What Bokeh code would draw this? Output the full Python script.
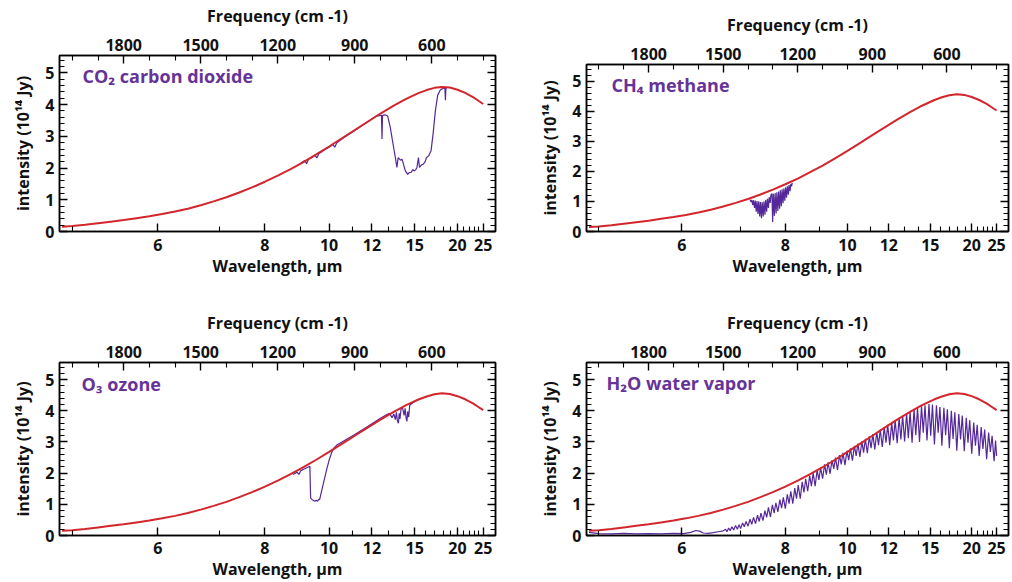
from bokeh.plotting import figure
from bokeh.models import (Range1d, LinearAxis, FixedTicker, SingleIntervalTicker,
                          CustomJSTickFormatter, Label)
from bokeh.layouts import row, column
from bokeh.embed import file_html
from bokeh.resources import INLINE

# ---------------- data (x in wavenumber, cm-1; y in 10^14 Jy) ----------------
bb_wavenumber = [2040, 2000, 1950, 1900, 1850, 1800, 1750, 1700, 1650, 1600, 1550, 1500,
                 1450, 1400, 1350, 1300, 1250, 1200, 1150, 1100, 1050, 1000, 950, 900,
                 850, 800, 750, 700, 650, 620, 590, 560, 530, 500, 470, 440, 420, 400]
bb_intensity = [0.15, 0.17, 0.21, 0.26, 0.31, 0.36, 0.42, 0.48, 0.55, 0.63, 0.72, 0.83,
                0.95, 1.08, 1.23, 1.39, 1.57, 1.76, 1.97, 2.19, 2.43, 2.68, 2.94, 3.20,
                3.46, 3.72, 3.96, 4.18, 4.37, 4.46, 4.53, 4.56, 4.54, 4.47, 4.37, 4.24, 4.13, 4.02]

co2_wavenumber = [1110, 1095, 1088, 1080, 1065, 1055, 1048, 1040, 1020, 1000, 985, 978, 970,
                  950, 930, 910, 890, 870, 850, 830, 815, 800, 796, 794, 792, 782, 772, 762,
                  751, 742, 736, 731, 722, 716, 703, 694, 688, 681, 674, 668, 662, 658, 652,
                  648, 640, 634, 626, 621, 612, 603, 595, 586, 577, 567, 556, 549, 547, 545, 540]
co2_intensity = [2.16, 2.24, 2.14, 2.28, 2.34, 2.40, 2.32, 2.45, 2.56, 2.66, 2.74, 2.66, 2.80,
                 2.92, 3.03, 3.13, 3.24, 3.35, 3.45, 3.56, 3.64, 3.66, 3.66, 2.92, 3.66, 3.68,
                 3.64, 3.29, 2.76, 2.33, 2.02, 2.33, 2.25, 2.28, 1.91, 1.80, 1.86, 1.86, 1.95,
                 1.91, 1.96, 2.02, 2.33, 2.02, 2.10, 2.12, 2.20, 2.33, 2.39, 2.55, 3.08, 3.82,
                 4.30, 4.46, 4.52, 4.52, 4.14, 4.52, 4.55]

ch4_wavenumber = [1392, 1388, 1385, 1381, 1378, 1374, 1371, 1367, 1364, 1360, 1357, 1353, 1350,
                  1346, 1343, 1339, 1336, 1332, 1329, 1325, 1322, 1318, 1315, 1311, 1308, 1304,
                  1301, 1298, 1294, 1291, 1287, 1284, 1280, 1277, 1273, 1270, 1266, 1263, 1259,
                  1256, 1252, 1249, 1245, 1242, 1238, 1235, 1231, 1228, 1225, 1222]
ch4_intensity = [1.06, 0.98, 1.05, 0.88, 1.04, 0.78, 1.03, 0.66, 1.01, 0.58, 1.00, 0.50, 0.98,
                 0.44, 0.97, 0.50, 1.00, 0.56, 1.05, 0.66, 1.09, 0.78, 1.14, 0.95, 1.22, 1.26,
                 0.32, 1.25, 0.52, 1.28, 0.60, 1.30, 0.68, 1.33, 0.76, 1.37, 0.84, 1.40, 0.94,
                 1.43, 1.02, 1.47, 1.12, 1.50, 1.22, 1.54, 1.34, 1.58, 1.50, 1.62]

o3_wavenumber = [1140, 1125, 1118, 1110, 1095, 1085, 1075, 1072, 1066, 1060, 1055, 1050, 1045,
                 1040, 1037, 1030, 1020, 1010, 1000, 990, 980, 970, 950, 900, 850, 800, 775,
                 765, 755, 748, 742, 738, 734, 730, 727, 724, 720, 714, 708, 704, 700, 697,
                 694, 690, 686, 680, 670, 660, 650, 640]
o3_intensity = [1.96, 2.03, 1.96, 2.08, 2.14, 2.18, 2.22, 1.20, 1.15, 1.12, 1.10, 1.13, 1.10,
                1.16, 1.15, 1.40, 1.75, 2.10, 2.42, 2.66, 2.82, 2.90, 3.00, 3.24, 3.50, 3.76,
                3.88, 3.92, 3.78, 3.90, 3.72, 3.95, 3.68, 3.60, 3.92, 3.74, 4.05, 4.10, 3.85,
                4.08, 3.76, 3.66, 3.98, 3.80, 4.18, 4.22, 4.28, 4.33, 4.37, 4.40]

h2o_wavenumber = [2040, 2000, 1950, 1900, 1850, 1800, 1750, 1700, 1660, 1630, 1610, 1595, 1580,
                  1560, 1540, 1520, 1500, 1490, 1485, 1478, 1472, 1465, 1458, 1450, 1443, 1436,
                  1430, 1422, 1415, 1408, 1400, 1392, 1385, 1378, 1370, 1362, 1355, 1348, 1340,
                  1332, 1325, 1318, 1310, 1302, 1295, 1288, 1280, 1272, 1265, 1258, 1250, 1242,
                  1235, 1228, 1220, 1212, 1205, 1198, 1190, 1182, 1175, 1168, 1160, 1152, 1145,
                  1138, 1130, 1122, 1115, 1108, 1100, 1092, 1085, 1078, 1070, 1062, 1055, 1048,
                  1040, 1032, 1025, 1018, 1010, 1002, 995, 988, 980, 972, 965, 958, 950, 942,
                  935, 928, 920, 912, 905, 898, 890, 882, 875, 868, 860, 852, 845, 838, 830,
                  822, 815, 808, 800, 792, 785, 778, 770, 762, 755, 748, 740, 732, 725, 718,
                  710, 702, 695, 688, 680, 672, 665, 658, 650, 642, 635, 628, 620, 612, 605,
                  598, 590, 582, 575, 568, 560, 552, 545, 538, 530, 522, 515, 508, 500, 492,
                  485, 478, 470, 462, 455, 448, 440, 432, 425, 418, 410, 404, 400]
h2o_intensity = [0.10, 0.06, 0.05, 0.07, 0.05, 0.06, 0.05, 0.07, 0.06, 0.10, 0.16, 0.14, 0.08,
                 0.07, 0.09, 0.12, 0.15, 0.20, 0.12, 0.24, 0.15, 0.28, 0.18, 0.32, 0.20, 0.35,
                 0.22, 0.40, 0.28, 0.45, 0.30, 0.52, 0.36, 0.58, 0.38, 0.65, 0.45, 0.72, 0.48,
                 0.80, 0.58, 0.90, 0.60, 0.98, 0.72, 1.05, 0.76, 1.15, 0.88, 1.22, 0.86, 1.32,
                 1.02, 1.42, 1.02, 1.52, 1.18, 1.62, 1.18, 1.72, 1.38, 1.82, 1.42, 1.92, 1.58,
                 2.00, 1.58, 2.10, 1.78, 2.18, 1.82, 2.28, 1.95, 2.35, 1.98, 2.42, 2.14, 2.50,
                 2.10, 2.58, 2.28, 2.65, 2.26, 2.72, 2.42, 2.80, 2.40, 2.88, 2.55, 2.95, 2.52,
                 3.02, 2.66, 3.10, 2.64, 3.18, 2.80, 3.25, 2.76, 3.32, 2.90, 3.40, 2.84, 3.48,
                 2.98, 3.55, 2.90, 3.62, 3.05, 3.70, 2.96, 3.78, 3.08, 3.85, 3.02, 3.92, 3.12,
                 3.98, 2.98, 4.05, 3.22, 4.10, 3.00, 4.15, 3.30, 4.18, 3.05, 4.22, 3.20, 4.20,
                 2.92, 4.18, 3.30, 4.12, 2.88, 4.10, 3.22, 4.05, 2.80, 4.00, 3.10, 3.95, 2.72,
                 3.90, 3.08, 3.85, 2.70, 3.78, 2.98, 3.70, 2.62, 3.62, 2.88, 3.55, 2.55, 3.48,
                 2.78, 3.40, 2.45, 3.30, 2.68, 3.20, 2.38, 3.05, 2.55]

freq_ticks = [1800, 1500, 1200, 900, 600]
freq_minor = [2000, 1900, 1700, 1600, 1400, 1300, 1100, 1000, 800, 700, 500, 400]
wl_ticks = [6, 8, 10, 12, 15, 20, 25]
wl_minor = [5, 7, 9, 11, 13, 14, 16, 17, 18, 19, 21, 22, 23, 24]

titles = ["CO\u2082 carbon dioxide", "CH\u2084 methane", "O\u2083 ozone", "H\u2082O water vapor"]

RED = "#d3262c"
PURPLE = "#55289a"
TITLE_PURPLE = "#663399"
FONT = "Open Sans"


def style_axis(ax):
    ax.axis_line_color = "black"
    ax.axis_line_width = 1.5
    ax.major_tick_line_color = "black"
    ax.major_tick_line_width = 1.4
    ax.minor_tick_line_color = "black"
    ax.minor_tick_line_width = 1.1
    ax.major_tick_in = 8
    ax.major_tick_out = 0
    ax.minor_tick_in = 5
    ax.minor_tick_out = 0
    ax.major_label_text_font = FONT
    ax.major_label_text_font_size = "16px"
    ax.major_label_text_font_style = "bold"
    ax.major_label_text_color = "#111111"
    ax.axis_label_text_font = FONT
    ax.axis_label_text_font_size = "16px"
    ax.axis_label_text_font_style = "bold"
    ax.axis_label_text_color = "#111111"


def panel(nu, inten, title, fw, fh, bl, br, bt, bb, tx, ty, bot_std):
    p = figure(x_range=Range1d(2050, 352), y_range=Range1d(0, 5.55),
               frame_width=fw, frame_height=fh,
               min_border_left=bl, min_border_right=br,
               min_border_top=bt, min_border_bottom=bb,
               x_axis_location="above", output_backend="svg", toolbar_location=None,
               background_fill_color="white", border_fill_color="white",
               outline_line_color="black", outline_line_width=1.5)
    p.frame_align = False
    p.grid.visible = False

    top = p.xaxis[0]
    top.ticker = FixedTicker(ticks=freq_ticks, minor_ticks=freq_minor)
    top.axis_label = "Frequency (cm -1)"
    style_axis(top)
    top.major_label_standoff = 5
    top.axis_label_standoff = 9

    bottom = LinearAxis(
        ticker=FixedTicker(ticks=[10000.0 / w for w in wl_ticks],
                           minor_ticks=[10000.0 / w for w in wl_minor]),
        formatter=CustomJSTickFormatter(code="return String(Math.round(10000 / tick));"),
        axis_label="Wavelength, \u03bcm")
    style_axis(bottom)
    bottom.major_label_standoff = bot_std
    bottom.axis_label_standoff = 1
    p.add_layout(bottom, "below")

    left = p.yaxis[0]
    left.ticker = SingleIntervalTicker(interval=1, num_minor_ticks=5)
    left.axis_label = "intensity (10\u00b9\u2074 Jy)"
    style_axis(left)
    left.major_label_standoff = 5
    left.axis_label_standoff = 8

    right = LinearAxis(ticker=SingleIntervalTicker(interval=1, num_minor_ticks=5),
                       formatter=CustomJSTickFormatter(code="return '';"))
    style_axis(right)
    right.major_label_standoff = 0
    p.add_layout(right, "right")

    p.line(nu, inten, color=PURPLE, line_width=1.2)
    p.line(bb_wavenumber, bb_intensity, color=RED, line_width=2)

    p.add_layout(Label(x=2050, y=5.55, x_offset=tx, y_offset=-ty, text=title,
                       text_color=TITLE_PURPLE, text_font=FONT, text_font_size="18px",
                       text_font_style="bold", text_baseline="middle", text_align="left"))
    return p


# left column: frame x 59..495 ; right column: frame x 586..1008
p1 = panel(co2_wavenumber, co2_intensity, titles[0], 436, 176, 59, 10, 55, 52, 23, 20, 7)
p2 = panel(ch4_wavenumber, ch4_intensity, titles[1], 422, 167, 81, 3, 64, 52, 25, 20, 7)
p3 = panel(o3_wavenumber, o3_intensity, titles[2], 436, 173, 59, 10, 79, 46, 22, 21, 6)
p4 = panel(h2o_wavenumber, h2o_intensity, titles[3], 422, 173, 81, 3, 79, 46, 20, 20, 6)

layout = column(row(p1, p2), row(p3, p4))

open("out.html", "w").write(file_html(layout, INLINE))
